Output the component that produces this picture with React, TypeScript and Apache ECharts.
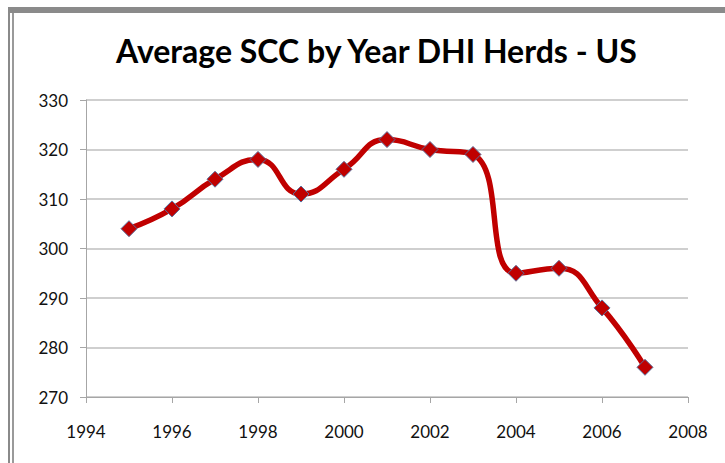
import React, { useEffect, useRef } from "react";
import * as echarts from "echarts";

const years = [1995, 1996, 1997, 1998, 1999, 2000, 2001, 2002, 2003, 2004, 2005, 2006, 2007];
const scc = [304, 308, 314, 318, 311, 316, 322, 320, 319, 295, 296, 288, 276];
const titleText = "Average SCC by Year DHI Herds - US";

export default function App() {
  const ref = useRef<HTMLDivElement>(null);
  useEffect(() => {
    document.body.style.margin = "0";
    const chart = echarts.init(ref.current!, null, { renderer: "svg" });
    chart.setOption({
      animation: false,
      backgroundColor: "#ffffff",
      title: {
        text: titleText,
        left: 111,
        top: 29,
        textStyle: { fontFamily: "Lato", fontSize: 32, fontWeight: "bold", color: "#000" },
      },
      graphic: [
        { type: "rect", shape: { x: 8, y: 7, width: 717, height: 6 }, style: { fill: "#8a8a8a" } },
        { type: "rect", shape: { x: 8, y: 7, width: 2, height: 456 }, style: { fill: "#8a8a8a" } },
        { type: "rect", shape: { x: 12, y: 13, width: 2, height: 450 }, style: { fill: "#9a9a9a" } },
      ],
      grid: { left: 86, right: 37, top: 100, bottom: 66 },
      xAxis: {
        type: "value",
        min: 1994,
        max: 2008,
        interval: 2,
        axisLine: { show: true, lineStyle: { color: "#a6a6a6", width: 1 } },
        axisTick: { show: true, length: 6, lineStyle: { color: "#a6a6a6" } },
        axisLabel: { fontFamily: "Lato", fontSize: 17, color: "#111", margin: 26, formatter: (v: number) => String(v) },
        splitLine: { show: false },
      },
      yAxis: {
        type: "value",
        min: 270,
        max: 330,
        interval: 10,
        axisLine: { show: true, lineStyle: { color: "#a6a6a6", width: 1 } },
        axisTick: { show: true, length: 6, lineStyle: { color: "#a6a6a6" } },
        axisLabel: { fontFamily: "Lato", fontSize: 17, color: "#111", margin: 18 },
        splitLine: { show: true, lineStyle: { color: "#bfbfbf", width: 1.5 } },
      },
      series: [
        {
          type: "line",
          data: years.map((y, i) => [y, scc[i]]),
          smooth: 0.5,
          lineStyle: { color: "#c00000", width: 5.5 },
          symbol: "diamond",
          symbolSize: 16,
          itemStyle: { color: "#c00000", borderColor: "#5a6f9c", borderWidth: 1 },
        },
      ],
    });
    return () => chart.dispose();
  }, []);
  return <div ref={ref} style={{ width: 725, height: 463 }} />;
}
